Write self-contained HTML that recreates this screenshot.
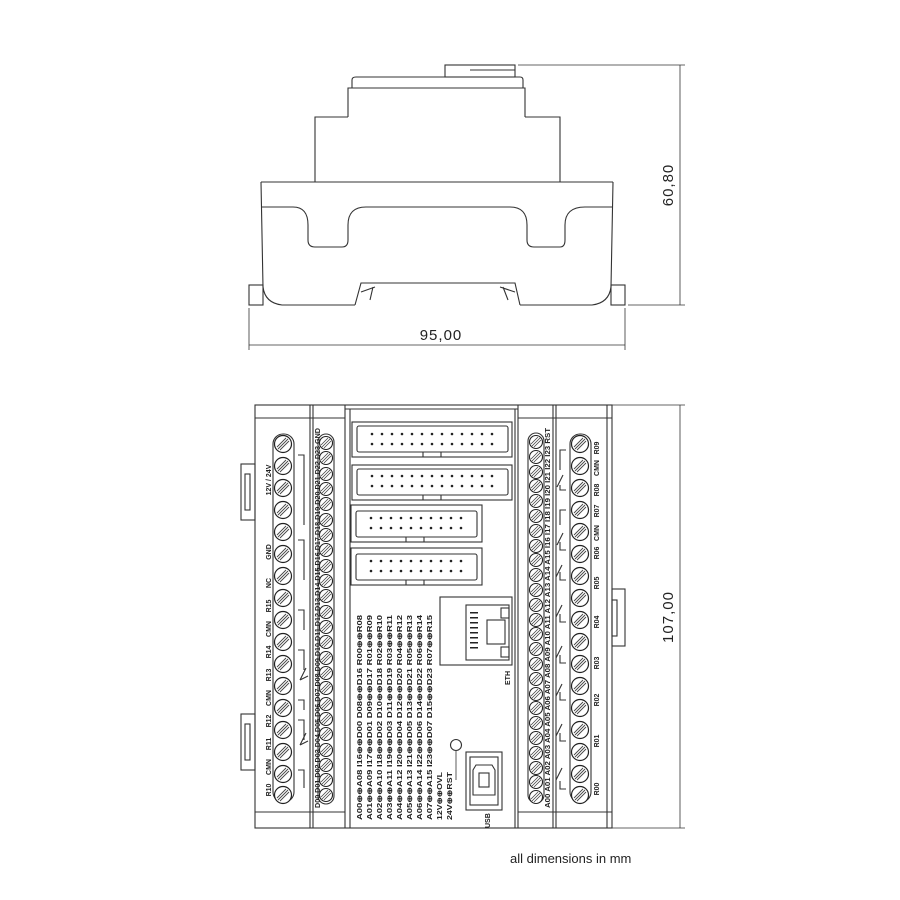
<!DOCTYPE html>
<html><head><meta charset="utf-8"><style>
html,body{margin:0;padding:0;background:#fff}
svg{display:block}
text{font-family:"Liberation Sans",sans-serif;fill:#222}
.l{font-size:7px;font-weight:bold}
</style></head><body>
<svg width="900" height="900" viewBox="0 0 900 900" xmlns="http://www.w3.org/2000/svg">
<defs>
<g id="s"><circle r="8.5" fill="#fff" stroke="#222" stroke-width="1.2"/><line x1="-5" y1="5" x2="5" y2="-5" stroke="#444" stroke-width="0.9"/><line x1="-3" y1="6" x2="6" y2="-3" stroke="#444" stroke-width="0.9"/><line x1="-6" y1="3" x2="3" y2="-6" stroke="#444" stroke-width="0.9"/></g>
<g id="t"><circle r="6.5" fill="#fff" stroke="#222" stroke-width="1.1"/><line x1="-4" y1="4" x2="4" y2="-4" stroke="#444" stroke-width="0.8"/><line x1="-2" y1="5" x2="5" y2="-2" stroke="#444" stroke-width="0.8"/><line x1="-5" y1="2" x2="2" y2="-5" stroke="#444" stroke-width="0.8"/></g>
<g id="d"><circle cx="0" cy="0" r="1.3" fill="#222"/><circle cx="10" cy="0" r="1.3" fill="#222"/><circle cx="20" cy="0" r="1.3" fill="#222"/><circle cx="30" cy="0" r="1.3" fill="#222"/><circle cx="40" cy="0" r="1.3" fill="#222"/></g>
<g id="d3"><circle cx="0" cy="0" r="1.3" fill="#222"/><circle cx="10" cy="0" r="1.3" fill="#222"/><circle cx="20" cy="0" r="1.3" fill="#222"/></g>
</defs>
<g fill="none" stroke="#333" stroke-width="1.1">
<rect x="445" y="65" width="70" height="12"/>
<line x1="470" y1="70" x2="515" y2="70"/>
<path d="M352 88 L352 80 Q352 77 356 77 L520 77 Q523 77 523 80 L523 88"/>
<path d="M348 117 L348 88 L525 88 L525 117"/>
<path d="M315 182 L315 117 L348 117 M525 117 L560 117 L560 182"/>
<path d="M261 182 L613 182 M261 182 L263 287 Q265 303 282 305 L355 305 M613 182 L611 287 Q609 303 592 305 L520 305"/>
<path d="M262 207 L293 207 Q308 207 308 225 L308 240 Q308 247 315 247 L342 247 Q348 247 348 240 L348 225 Q348 207 366 207 L510 207 Q527 207 527 225 L527 240 Q527 247 534 247 L560 247 Q565 247 565 240 L565 225 Q565 207 585 207 L612 207"/>
<rect x="249" y="285" width="14" height="20"/>
<rect x="611" y="285" width="14" height="20"/>
<path d="M355 305 L361 283 L515 283 L520 305"/>
<path d="M361 292 L375 287 M370 300 L373 287 M515 292 L500 287 M508 300 L503 287"/>
<line x1="518" y1="65" x2="685" y2="65" stroke-width="0.8"/>
<line x1="628" y1="305" x2="685" y2="305" stroke-width="0.8"/>
<line x1="680" y1="65" x2="680" y2="305" stroke-width="0.8"/>
<line x1="249" y1="308" x2="249" y2="350" stroke-width="0.8"/>
<line x1="625" y1="308" x2="625" y2="350" stroke-width="0.8"/>
<line x1="249" y1="345" x2="625" y2="345" stroke-width="0.8"/>
<line x1="612" y1="405" x2="685" y2="405" stroke-width="0.8"/>
<line x1="612" y1="828" x2="685" y2="828" stroke-width="0.8"/>
<line x1="680" y1="405" x2="680" y2="828" stroke-width="0.8"/>
<rect x="255" y="405" width="357" height="423"/>
<line x1="255" y1="418" x2="345" y2="418"/><line x1="255" y1="812" x2="345" y2="812"/>
<line x1="518" y1="418" x2="612" y2="418"/><line x1="518" y1="812" x2="612" y2="812"/>
<line x1="310" y1="405" x2="310" y2="828"/><line x1="313" y1="405" x2="313" y2="828"/>
<line x1="345" y1="405" x2="345" y2="828"/><line x1="350" y1="409" x2="350" y2="828"/>
<line x1="345" y1="409" x2="518" y2="409"/>
<line x1="515" y1="409" x2="515" y2="828"/><line x1="518" y1="405" x2="518" y2="828"/>
<line x1="553" y1="405" x2="553" y2="828"/><line x1="556" y1="405" x2="556" y2="828"/>
<line x1="607" y1="405" x2="607" y2="828"/>
<rect x="241" y="464" width="14" height="56"/><rect x="245" y="474" width="5" height="36"/>
<rect x="241" y="714" width="14" height="56"/><rect x="245" y="724" width="5" height="36"/>
<rect x="612" y="589" width="13" height="57"/><rect x="612" y="600" width="5" height="36"/>
<rect x="273" y="434" width="21" height="368" rx="10"/>
<rect x="318" y="434" width="16" height="370" rx="8"/>
<rect x="528" y="433" width="16" height="370" rx="8"/>
<rect x="570" y="434" width="21" height="368" rx="10"/>
<rect x="352" y="422" width="160" height="35"/><rect x="357" y="426" width="151" height="26" rx="2"/>
<rect x="352" y="465" width="160" height="35"/><rect x="357" y="469" width="151" height="26" rx="2"/>
<rect x="351" y="505" width="131" height="37"/><rect x="356" y="511" width="121" height="26" rx="2"/>
<rect x="351" y="548" width="131" height="37"/><rect x="356" y="554" width="121" height="26" rx="2"/>
<path d="M423 452 v5 M441 452 v5 M423 495 v5 M441 495 v5 M406 537 v5 M424 537 v5 M406 580 v5 M424 580 v5"/>
<rect x="440" y="597" width="72" height="68"/>
<rect x="466" y="605" width="43" height="55"/>
<rect x="487" y="620" width="18" height="24"/>
<rect x="501" y="608" width="8" height="10"/><rect x="501" y="647" width="8" height="10"/>
<rect x="466" y="752" width="36" height="58"/>
<rect x="470" y="757" width="28" height="48"/>
<path d="M476 765 L492 765 L495 770 L495 795 L473 795 L473 770 Z"/>
<rect x="479" y="773" width="10" height="14"/>
<circle cx="456" cy="745" r="5.5"/>
<line x1="456" y1="751" x2="456" y2="780" stroke-width="0.8"/>
<path d="M298 720 h6 v20 M298 770 h6 v18 M300 745 l6 -12 M300 745 l8 -4 M298 650 h6 v20 M298 700 h6 v10 M300 680 l6 -12 M300 680 l8 -4 M298 610 h6 v20 M298 455 h6 v70 M298 540 h6 v40"/>
<path d="M566 450 h-6 v20 M566 490 h-6 v-5 M563 475 l-6 12 M566 510 h-6 v15 M566 550 h-6 v-8 M563 533 l-6 12 M566 580 h-6 v-8 M562 565 l-6 12 M566 622 h-6 v-8 M562 605 l-6 12 M566 663 h-6 v-8 M562 646 l-6 12 M566 700 h-6 v-8 M562 684 l-6 12 M566 741 h-6 v-8 M562 724 l-6 12 M566 789 h-6 v-8 M562 768 l-6 12"/>
</g>
<g>
<use href="#d" x="372" y="434"/><use href="#d" x="422" y="434"/><use href="#d3" x="472" y="434"/>
<use href="#d" x="372" y="444"/><use href="#d" x="422" y="444"/><use href="#d3" x="472" y="444"/>
<use href="#d" x="372" y="476"/><use href="#d" x="422" y="476"/><use href="#d3" x="472" y="476"/>
<use href="#d" x="372" y="486"/><use href="#d" x="422" y="486"/><use href="#d3" x="472" y="486"/>
<use href="#d" x="371" y="518"/><use href="#d" x="421" y="518"/>
<use href="#d" x="371" y="528"/><use href="#d" x="421" y="528"/>
<use href="#d" x="371" y="561"/><use href="#d" x="421" y="561"/>
<use href="#d" x="371" y="571"/><use href="#d" x="421" y="571"/>
</g>
<g fill="#222"><rect x="470" y="612" width="8" height="1.5"/><rect x="470" y="617" width="8" height="1.5"/><rect x="470" y="622" width="8" height="1.5"/><rect x="470" y="627" width="8" height="1.5"/><rect x="470" y="632" width="8" height="1.5"/><rect x="470" y="637" width="8" height="1.5"/><rect x="470" y="642" width="8" height="1.5"/><rect x="470" y="647" width="8" height="1.5"/></g>
<g>
<use href="#s" x="283" y="444"/><use href="#s" x="283" y="466"/><use href="#s" x="283" y="488"/><use href="#s" x="283" y="510"/><use href="#s" x="283" y="532"/><use href="#s" x="283" y="554"/><use href="#s" x="283" y="576"/><use href="#s" x="283" y="598"/><use href="#s" x="283" y="620"/><use href="#s" x="283" y="642"/><use href="#s" x="283" y="664"/><use href="#s" x="283" y="686"/><use href="#s" x="283" y="708"/><use href="#s" x="283" y="730"/><use href="#s" x="283" y="752"/><use href="#s" x="283" y="774"/><use href="#s" x="283" y="795"/>
<use href="#s" x="580" y="444"/><use href="#s" x="580" y="466"/><use href="#s" x="580" y="488"/><use href="#s" x="580" y="510"/><use href="#s" x="580" y="532"/><use href="#s" x="580" y="554"/><use href="#s" x="580" y="576"/><use href="#s" x="580" y="598"/><use href="#s" x="580" y="620"/><use href="#s" x="580" y="642"/><use href="#s" x="580" y="664"/><use href="#s" x="580" y="686"/><use href="#s" x="580" y="708"/><use href="#s" x="580" y="730"/><use href="#s" x="580" y="752"/><use href="#s" x="580" y="774"/><use href="#s" x="580" y="795"/>
</g>
<g>
<use href="#t" x="326" y="443"/><use href="#t" x="326" y="458"/><use href="#t" x="326" y="474"/><use href="#t" x="326" y="489"/><use href="#t" x="326" y="504"/><use href="#t" x="326" y="520"/><use href="#t" x="326" y="535"/><use href="#t" x="326" y="550"/><use href="#t" x="326" y="566"/><use href="#t" x="326" y="581"/><use href="#t" x="326" y="596"/><use href="#t" x="326" y="612"/><use href="#t" x="326" y="627"/><use href="#t" x="326" y="642"/><use href="#t" x="326" y="658"/><use href="#t" x="326" y="673"/><use href="#t" x="326" y="688"/><use href="#t" x="326" y="704"/><use href="#t" x="326" y="719"/><use href="#t" x="326" y="734"/><use href="#t" x="326" y="750"/><use href="#t" x="326" y="765"/><use href="#t" x="326" y="780"/><use href="#t" x="326" y="795"/>
<use href="#t" x="536" y="442"/><use href="#t" x="536" y="457"/><use href="#t" x="536" y="472"/><use href="#t" x="536" y="486"/><use href="#t" x="536" y="501"/><use href="#t" x="536" y="516"/><use href="#t" x="536" y="531"/><use href="#t" x="536" y="546"/><use href="#t" x="536" y="560"/><use href="#t" x="536" y="575"/><use href="#t" x="536" y="590"/><use href="#t" x="536" y="605"/><use href="#t" x="536" y="620"/><use href="#t" x="536" y="634"/><use href="#t" x="536" y="649"/><use href="#t" x="536" y="664"/><use href="#t" x="536" y="679"/><use href="#t" x="536" y="694"/><use href="#t" x="536" y="708"/><use href="#t" x="536" y="723"/><use href="#t" x="536" y="738"/><use href="#t" x="536" y="753"/><use href="#t" x="536" y="768"/><use href="#t" x="536" y="782"/><use href="#t" x="536" y="797"/>
</g>
<text x="441" y="340" font-size="15" text-anchor="middle" letter-spacing="1">95,00</text>
<text transform="translate(673,185) rotate(-90)" font-size="15" text-anchor="middle" letter-spacing="1">60,80</text>
<text transform="translate(673,617) rotate(-90)" font-size="15" text-anchor="middle" letter-spacing="1">107,00</text>
<text x="510" y="863" font-size="13">all dimensions in mm</text>
<g class="l" text-anchor="middle">
<text transform="translate(271,790) rotate(-90)">R10</text>
<text transform="translate(271,767) rotate(-90)">CMN</text>
<text transform="translate(271,744) rotate(-90)">R11</text>
<text transform="translate(271,721) rotate(-90)">R12</text>
<text transform="translate(271,698) rotate(-90)">CMN</text>
<text transform="translate(271,675) rotate(-90)">R13</text>
<text transform="translate(271,652) rotate(-90)">R14</text>
<text transform="translate(271,629) rotate(-90)">CMN</text>
<text transform="translate(271,606) rotate(-90)">R15</text>
<text transform="translate(271,583) rotate(-90)">NC</text>
<text transform="translate(271,552) rotate(-90)">GND</text>
<text transform="translate(271,480) rotate(-90)">12V / 24V</text>
<text transform="translate(599,789) rotate(-90)">R00</text>
<text transform="translate(599,741) rotate(-90)">R01</text>
<text transform="translate(599,700) rotate(-90)">R02</text>
<text transform="translate(599,663) rotate(-90)">R03</text>
<text transform="translate(599,622) rotate(-90)">R04</text>
<text transform="translate(599,583) rotate(-90)">R05</text>
<text transform="translate(599,553) rotate(-90)">R06</text>
<text transform="translate(599,533) rotate(-90)">CMN</text>
<text transform="translate(599,511) rotate(-90)">R07</text>
<text transform="translate(599,490) rotate(-90)">R08</text>
<text transform="translate(599,468) rotate(-90)">CMN</text>
<text transform="translate(599,448) rotate(-90)">R09</text>
</g>
<g class="l">
<text transform="translate(320,808) rotate(-90)" textLength="380" lengthAdjust="spacingAndGlyphs">D00 D01 D02 D03 D04 D05 D06 D07 D08 D09 D10 D11 D12 D13 D14 D15 D16 D17 D18 D19 D20 D21 D22 D23 GND</text>
<text transform="translate(550,808) rotate(-90)" textLength="380" lengthAdjust="spacingAndGlyphs">A00 A01 A02 A03 A04 A05 A06 A07 A08 A09 A10 A11 A12 A13 A14 A15 I16 I17 I18 I19 I20 I21 I22 I23 RST</text>
</g>
<g class="l" font-size="6.5">
<text transform="translate(362,820) rotate(-90)" textLength="205" lengthAdjust="spacingAndGlyphs">A00⊕⊕A08  I16⊕⊕D00  D08⊕⊕D16  R00⊕⊕R08</text>
<text transform="translate(372,820) rotate(-90)" textLength="205" lengthAdjust="spacingAndGlyphs">A01⊕⊕A09  I17⊕⊕D01  D09⊕⊕D17  R01⊕⊕R09</text>
<text transform="translate(382,820) rotate(-90)" textLength="205" lengthAdjust="spacingAndGlyphs">A02⊕⊕A10  I18⊕⊕D02  D10⊕⊕D18  R02⊕⊕R10</text>
<text transform="translate(392,820) rotate(-90)" textLength="205" lengthAdjust="spacingAndGlyphs">A03⊕⊕A11  I19⊕⊕D03  D11⊕⊕D19  R03⊕⊕R11</text>
<text transform="translate(402,820) rotate(-90)" textLength="205" lengthAdjust="spacingAndGlyphs">A04⊕⊕A12  I20⊕⊕D04  D12⊕⊕D20  R04⊕⊕R12</text>
<text transform="translate(412,820) rotate(-90)" textLength="205" lengthAdjust="spacingAndGlyphs">A05⊕⊕A13  I21⊕⊕D05  D13⊕⊕D21  R05⊕⊕R13</text>
<text transform="translate(422,820) rotate(-90)" textLength="205" lengthAdjust="spacingAndGlyphs">A06⊕⊕A14  I22⊕⊕D06  D14⊕⊕D22  R06⊕⊕R14</text>
<text transform="translate(432,820) rotate(-90)" textLength="205" lengthAdjust="spacingAndGlyphs">A07⊕⊕A15  I23⊕⊕D07  D15⊕⊕D23  R07⊕⊕R15</text>
<text transform="translate(442,820) rotate(-90)" textLength="48" lengthAdjust="spacingAndGlyphs">12V⊕⊕OVL</text>
<text transform="translate(452,820) rotate(-90)" textLength="48" lengthAdjust="spacingAndGlyphs">24V⊕⊕RST</text>
<text transform="translate(490,828) rotate(-90)" font-size="7">USB</text>
<text transform="translate(510,685) rotate(-90)" font-size="7">ETH</text>
</g>
</svg>
</body></html>
